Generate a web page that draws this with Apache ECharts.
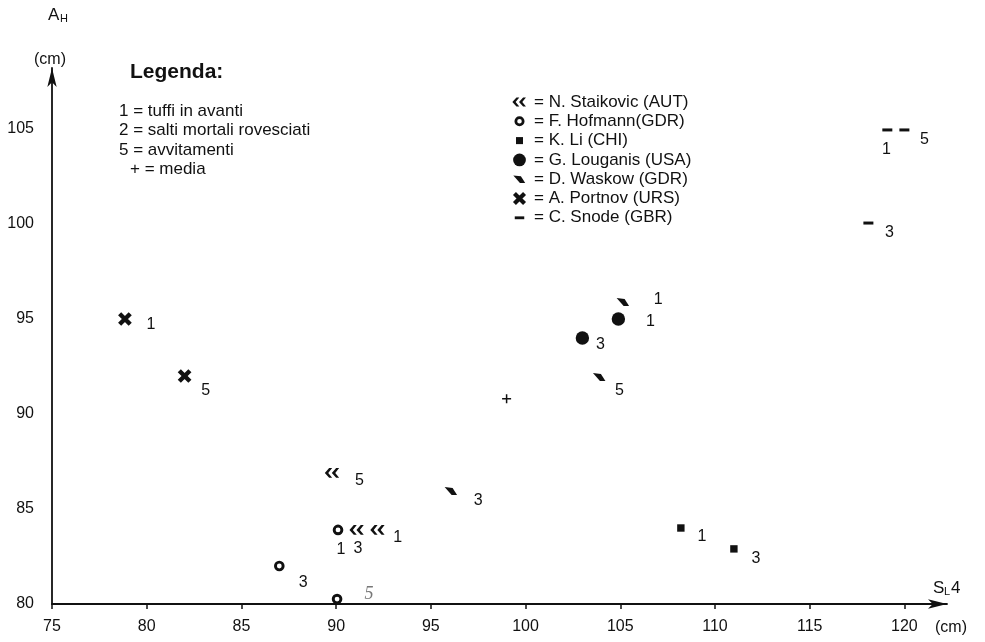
<!DOCTYPE html>
<html><head><meta charset="utf-8">
<script src="https://cdn.jsdelivr.net/npm/echarts@6/dist/echarts.min.js"></script>
<style>html,body{margin:0;padding:0;background:#fff}#c{width:985px;height:642px}</style>
</head><body><div id="c"></div>
<script>
// ---- data ----
const xTicks = [75, 80, 85, 90, 95, 100, 105, 110, 115, 120];
const yTicks = [80, 85, 90, 95, 100, 105];
const athletes = ['N. Staikovic (AUT)', 'F. Hofmann(GDR)', 'K. Li (CHI)', 'G. Louganis (USA)', 'D. Waskow (GDR)', 'A. Portnov (URS)', 'C. Snode (GBR)'];
// [S_L4, A_H, dive group]
const staikovic = [[89.8, 86.9, '5'], [91.1, 83.9, '3'], [92.2, 83.9, '1']];
const hofmann = [[90.1, 83.9, '1'], [87.0, 82.0, '3'], [90.05, 80.26, '5']];
const li = [[108.2, 84.0, '1'], [111.0, 82.9, '3']];
const louganis = [[104.9, 95.0, '1'], [103.0, 94.0, '3']];
const waskow = [[105.15, 95.9, '1'], [103.9, 91.95, '5'], [96.07, 85.95, '3']];
const portnov = [[78.85, 95.0, '1'], [82.0, 92.0, '5']];
const snode = [[119.1, 104.95, '1'], [120.0, 104.95, '5'], [118.1, 100.05, '3']];
const mean = [[99.0, 90.8]];
const legendLines = ['1 = tuffi in avanti', '2 = salti mortali rovesciati', '5 = avvitamenti', '+ = media'];

// ---- styles ----
const INK = '#111';
const FONT = 'Liberation Sans, Arial, sans-serif';
const FRAME = 'M0,0 L0,0 M20,20 L20,20 ';
const symbols = [
  'path://' + FRAME + 'M2.5,10 L6.8,5.2 L9.8,5.2 L5.9,10 L9.8,14.8 L6.8,14.8 Z M9.5,10 L13.8,5.2 L16.8,5.2 L12.9,10 L16.8,14.8 L13.8,14.8 Z',
  'path://' + FRAME + 'M4.7,10 A5.3,5.3 0 1,1 15.3,10 A5.3,5.3 0 1,1 4.7,10 Z M7.6,10 A2.4,2.4 0 1,0 12.4,10 A2.4,2.4 0 1,0 7.6,10 Z',
  'path://' + FRAME + 'M6.3,6.3 L13.7,6.3 L13.7,13.7 L6.3,13.7 Z',
  'path://' + FRAME + 'M3.3,10 A6.7,6.7 0 1,1 16.7,10 A6.7,6.7 0 1,1 3.3,10 Z',
  'path://' + FRAME + 'M3.5,6 L11.5,7 L16,14 L10.5,14 Z',
  'path://' + FRAME + 'M3.14,6.26 L6.26,3.14 L16.86,13.74 L13.74,16.86 Z M6.26,16.86 L3.14,13.74 L13.74,3.14 L16.86,6.26 Z',
  'path://' + FRAME + 'M5,8.5 L15,8.5 L15,11.5 L5,11.5 Z'
];
const plusSymbol = 'path://' + FRAME + 'M5.5,9.25 L14.5,9.25 L14.5,10.75 L5.5,10.75 Z M9.25,5.5 L10.75,5.5 L10.75,14.5 L9.25,14.5 Z';
const tagOffsets = [
  [[27, 8], [1, 19], [20, 8]],
  [[3, 20], [24, 17], [32, -5]],
  [[21, 9], [22, 10]],
  [[32, 3], [18, 7]],
  [[35, -2], [20, 14], [27, 10]],
  [[26, 6], [21, 15]],
  [[-1, 20], [20, 10], [21, 10]]
];
const handStyle = { color: '#777', fontFamily: 'Liberation Serif, serif', fontStyle: 'italic', fontSize: 18 };

const seriesData = [staikovic, hofmann, li, louganis, waskow, portnov, snode];
const series = athletes.map((name, i) => ({
  type: 'scatter', name, symbol: symbols[i], symbolSize: 20,
  itemStyle: { color: INK, opacity: 1 },
  emphasis: { disabled: true },
  label: { show: true, position: 'inside', color: INK, fontSize: 16, fontFamily: FONT, textBorderWidth: 0,
    formatter: p => p.data.tag },
  data: seriesData[i].map((d, j) => {
    const lab = { offset: tagOffsets[i][j] };
    if (i === 1 && j === 2) Object.assign(lab, handStyle);
    return { value: [d[0], d[1]], tag: d[2], label: lab };
  })
}));
series.push({ type: 'scatter', name: 'media', symbol: plusSymbol, symbolSize: 20,
  itemStyle: { color: INK, opacity: 1 }, emphasis: { disabled: true }, data: mean });

const txt = (text, x, y, size, extra) => ({ type: 'text', x, y, silent: true,
  style: Object.assign({ text, fill: INK, fontSize: size, fontFamily: FONT, align: 'left', verticalAlign: 'middle' }, extra || {}) });

const graphics = [
  txt('A', 48, 15, 17), txt('H', 60, 19, 11),
  txt('(cm)', 50, 60, 16, { align: 'center' }),
  txt('S', 933, 588, 17), txt('L', 944, 592, 11), txt('4', 951, 588, 17),
  txt('(cm)', 935, 628, 16),
  txt('Legenda:', 130, 72, 21, { fontWeight: 'bold' })
];
legendLines.forEach((l, i) => graphics.push(txt(l, i === 3 ? 130 : 119, 111 + i * 19.5, 17)));

const chart = echarts.init(document.getElementById('c'), null, { renderer: 'canvas' });
chart.setOption({
  animation: false,
  backgroundColor: '#fff',
  grid: { left: 52, right: 38, top: 68, bottom: 38 },
  legend: {
    orient: 'vertical', left: 505, top: 87.5, itemWidth: 19, itemHeight: 19, itemGap: 0.3,
    selectedMode: false,
    data: athletes.map((n, i) => ({ name: n, icon: symbols[i], itemStyle: { color: INK, opacity: 1 } })),
    formatter: '= {name}',
    textStyle: { fontSize: 17, fontFamily: FONT, color: INK }
  },
  xAxis: {
    type: 'value', min: 75, max: 122.25,
    axisLine: { onZero: false, symbol: ['none', 'arrow'], symbolSize: [7, 19], lineStyle: { color: INK, width: 1.8 } },
    axisTick: { show: true, length: 5, customValues: xTicks, lineStyle: { color: INK, width: 1.5 } },
    axisLabel: { customValues: xTicks, margin: 15, fontSize: 16, fontFamily: FONT, color: INK },
    splitLine: { show: false }
  },
  yAxis: {
    type: 'value', min: 80, max: 108.21,
    axisLine: { show: true, onZero: false, symbol: ['none', 'arrow'], symbolSize: [7, 19], lineStyle: { color: INK, width: 1.8 } },
    axisTick: { show: false },
    axisLabel: { customValues: yTicks, margin: 18, fontSize: 16, fontFamily: FONT, color: INK },
    splitLine: { show: false }
  },
  graphic: graphics,
  series
});
</script></body></html>
